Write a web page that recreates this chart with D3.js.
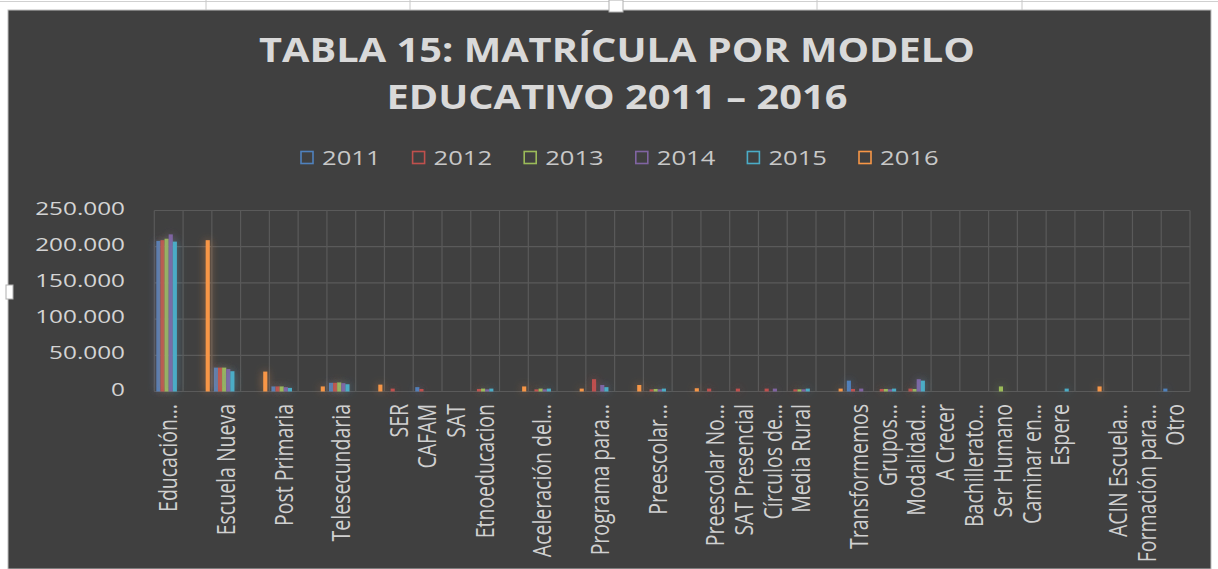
<!DOCTYPE html>
<html><head><meta charset="utf-8">
<script src="https://cdn.jsdelivr.net/npm/d3@7"></script>
<style>html,body{margin:0;padding:0;background:#fff;}svg{display:block;}</style>
</head><body>
<svg id="c" width="1218" height="569"></svg>
<script>
const categories = ["Educación…","","Escuela Nueva","","Post Primaria","","Telesecundaria","","SER","CAFAM",
  "SAT","Etnoeducacion","","Aceleración del…","","Programa para…","","Preescolar…","","Preescolar No…",
  "SAT Presencial","Círculos de…","Media Rural","","Transformemos","Grupos…","Modalidad…","A Crecer","Bachillerato…","Ser Humano",
  "Caminar en…","Espere","","ACIN Escuela…","Formación para…","Otro"];
const years = ["2011","2012","2013","2014","2015","2016"];
const v2011 = [208000,0,33000,0,7000,0,12000,0,0,6000, 0,0,0,0,0,0,0,0,0,0, 0,0,0,0,15000,0,0,0,0,0, 0,0,0,0,0,4000];
const v2012 = [209000,0,33000,0,7000,0,12000,0,4000,3500, 0,3500,0,3000,0,17000,0,3000,0,4000, 4000,4000,3000,0,3500,3500,4000,0,0,0, 0,0,0,0,0,0];
const v2013 = [211000,0,33000,0,7000,0,12500,0,0,0, 0,4000,0,4000,0,0,0,3500,0,0, 0,0,3000,0,0,3500,3500,0,0,7000, 0,0,0,0,0,0];
const v2014 = [217000,0,31000,0,6000,0,11500,0,0,0, 0,3000,0,3000,0,9000,0,3000,0,0, 0,4000,3000,0,4000,3000,17000,0,0,0, 0,0,0,0,0,0];
const v2015 = [207000,0,28000,0,5000,0,10000,0,0,0, 0,4000,0,4000,0,6000,0,4000,0,0, 0,0,4000,0,0,4000,15000,0,0,0, 0,4000,0,0,0,0];
const v2016 = [0,209000,0,27500,0,7000,0,9500,0,0, 0,0,7000,0,4000,0,9000,0,4500,0, 0,0,0,4000,0,0,0,0,0,0, 0,0,7000,0,0,0];
const yTicks = [0,50000,100000,150000,200000,250000];
const titleLines = ["TABLA 15: MATRÍCULA POR MODELO","EDUCATIVO 2011 – 2016"];
const colors = ["#4F81BD","#C0504D","#9BBB59","#8064A2","#4BACC6","#F79646"];

const seriesVals = [v2011,v2012,v2013,v2014,v2015,v2016];
const series = years.map((y,i)=>({year:y,color:colors[i],values:seriesVals[i]}));

const svg = d3.select("#c");
const W=1218,H=569;
const SX = 1.28;
const FONT = "'Open Sans', 'Segoe UI', sans-serif";

// spreadsheet background band
svg.append("rect").attr("x",0).attr("y",0).attr("width",W).attr("height",H).attr("fill","#ffffff");
svg.append("line").attr("x1",0).attr("x2",W).attr("y1",1.5).attr("y2",1.5).attr("stroke","#d0d0d0");
[206,410,817,1022].forEach(x=>svg.append("line").attr("x1",x).attr("x2",x).attr("y1",0).attr("y2",10).attr("stroke","#c8c8c8"));
// chart area
svg.append("rect").attr("x",8).attr("y",10).attr("width",1203).attr("height",H-10)
  .attr("fill","#404040").attr("stroke","#bdbdbd").attr("stroke-width",1);
svg.append("rect").attr("x",609).attr("y",0).attr("width",14).attr("height",12).attr("fill","#fff").attr("stroke","#b0b0b0");
svg.append("rect").attr("x",6).attr("y",285).attr("width",7).attr("height",14).attr("fill","#fff").attr("stroke","#b0b0b0");

// glow filter
const defs = svg.append("defs");
const f = defs.append("filter").attr("id","glow").attr("x","-200%").attr("y","-50%").attr("width","500%").attr("height","200%");
f.append("feGaussianBlur").attr("in","SourceGraphic").attr("stdDeviation",4).attr("result","b");
f.append("feComponentTransfer").attr("in","b").attr("result","bt")
  .append("feFuncA").attr("type","linear").attr("slope",0.55);
const fm = f.append("feMerge");
fm.append("feMergeNode").attr("in","bt");
fm.append("feMergeNode").attr("in","SourceGraphic");

// scales
const plot = {l:154.3, r:1190, t:210.5, b:391.5};
const x = d3.scaleBand().domain(d3.range(categories.length)).range([plot.l,plot.r]).paddingInner(0).paddingOuter(0);
const xs = d3.scaleBand().domain(years).range([0,x.bandwidth()]).paddingInner(0).paddingOuter(0.5);
const y = d3.scaleLinear().domain([0,250000]).range([plot.b,plot.t]);
const fmt = d3.formatLocale({decimal:",",thousands:".",grouping:[3],currency:["$",""]}).format(",");

// gridlines
const grid = svg.append("g").attr("stroke","#5a5a5a").attr("stroke-width",1.2);
yTicks.forEach(t=>grid.append("line").attr("x1",plot.l).attr("x2",plot.r).attr("y1",y(t)).attr("y2",y(t)));
d3.range(categories.length+1).forEach(i=>{
  const xx = i<categories.length ? x(i) : plot.r;
  grid.append("line").attr("x1",xx).attr("x2",xx).attr("y1",plot.t).attr("y2",plot.b);
});

// bars
series.forEach(s=>{
  const g = svg.append("g").attr("filter","url(#glow)");
  g.selectAll("rect").data(s.values.map((v,i)=>({i,v})).filter(d=>d.v>0)).join("rect")
    .attr("x",d=>x(d.i)+xs(s.year)).attr("width",xs.bandwidth())
    .attr("y",d=>y(d.v)).attr("height",d=>y(0)-y(d.v))
    .attr("fill",s.color);
});

// y labels
const yl = svg.append("g").attr("fill","#d4d4d4").attr("font-family",FONT).attr("font-size",19);
yTicks.forEach(t=>{
  yl.append("text").attr("transform",`translate(125,${y(t)-2.5}) scale(${SX},1)`)
    .attr("text-anchor","end").attr("dy","0.35em").text(fmt(t));
});

// x labels
const xl = svg.append("g").attr("fill","#d0d0d0").attr("font-family",FONT).attr("font-size",19.5);
categories.forEach((c,i)=>{
  if(!c) return;
  xl.append("text").attr("transform",`translate(${x(i)+x.bandwidth()/2},404) scale(${SX},1) rotate(-90)`)
    .attr("text-anchor","end").attr("dy","0.35em").text(c);
});

// title
const tg = svg.append("g").attr("fill","#d9d9d9").attr("font-family",FONT).attr("font-size",34).attr("font-weight","bold");
titleLines.forEach((t,i)=>{
  tg.append("text").attr("transform",`translate(617,${62+i*47}) scale(1.17,1)`).attr("text-anchor","middle").text(t);
});

// legend
const lg = svg.append("g").attr("font-family",FONT).attr("font-size",20);
series.forEach((s,i)=>{
  const lx = 300 + i*111.6;
  lg.append("rect").attr("x",lx+1).attr("y",151.5).attr("width",12).attr("height",12)
    .attr("fill","none").attr("stroke",s.color).attr("stroke-width",1.6);
  lg.append("text").attr("transform",`translate(${lx+22},158) scale(${SX},1)`).attr("dy","0.35em")
    .attr("fill","#c8c8c8").text(s.year);
});
</script>
</body></html>
